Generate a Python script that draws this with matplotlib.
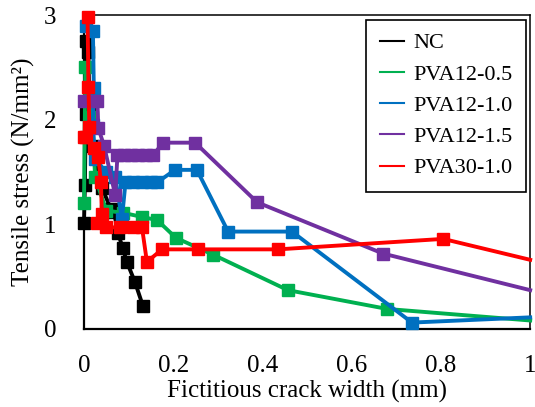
import matplotlib
matplotlib.use("Agg")
import matplotlib.pyplot as plt

plt.rcParams['font.family'] = ['Liberation Serif', 'DejaVu Serif']

# Fictitious crack width (mm) and tensile stress (N/mm2) for each mix
nc_w = [0.000, 0.002, 0.004, 0.005, 0.010, 0.012, 0.020, 0.040, 0.060, 0.067, 0.076, 0.087, 0.096, 0.114, 0.132]
nc_s = [1.01, 1.38, 2.05, 2.75, 2.65, 2.05, 1.75, 1.35, 1.15, 1.12, 0.92, 0.77, 0.64, 0.45, 0.22]

pva05_w = [0.000, 0.003, 0.018, 0.025, 0.050, 0.087, 0.130, 0.164, 0.206, 0.289, 0.457, 0.680, 1.000]
pva05_s = [1.20, 2.50, 2.03, 1.45, 1.13, 1.11, 1.07, 1.04, 0.87, 0.71, 0.37, 0.19, 0.08]

pva10_w = [0.004, 0.020, 0.022, 0.020, 0.025, 0.050, 0.070, 0.085, 0.093, 0.110, 0.130, 0.150, 0.164, 0.204, 0.253, 0.323, 0.466, 0.735, 1.000]
pva10_s = [2.90, 2.85, 2.30, 1.95, 1.62, 1.50, 1.45, 1.05, 1.40, 1.40, 1.40, 1.40, 1.40, 1.52, 1.52, 0.93, 0.93, 0.06, 0.11]

pva15_w = [0.000, 0.030, 0.032, 0.045, 0.070, 0.075, 0.090, 0.105, 0.120, 0.140, 0.155, 0.177, 0.249, 0.388, 0.670, 1.000]
pva15_s = [2.18, 2.18, 1.92, 1.75, 1.28, 1.66, 1.66, 1.66, 1.66, 1.66, 1.66, 1.78, 1.78, 1.21, 0.72, 0.37]

pva30_w = [0.008, 0.010, 0.012, 0.005, 0.000, 0.022, 0.032, 0.038, 0.040, 0.030, 0.050, 0.080, 0.110, 0.130, 0.141, 0.175, 0.256, 0.435, 0.805, 1.000]
pva30_s = [2.98, 2.31, 1.93, 1.83, 1.83, 1.73, 1.64, 1.40, 1.10, 1.01, 0.97, 0.97, 0.97, 0.97, 0.64, 0.76, 0.76, 0.76, 0.86, 0.66]

series = [
    ("NC", nc_w, nc_s, "#000000"),
    ("PVA12-0.5", pva05_w, pva05_s, "#00B050"),
    ("PVA12-1.0", pva10_w, pva10_s, "#0070C0"),
    ("PVA12-1.5", pva15_w, pva15_s, "#7030A0"),
    ("PVA30-1.0", pva30_w, pva30_s, "#FF0000"),
]

fig = plt.figure(figsize=(5.35, 4.07), dpi=100)
ax = fig.add_axes([0.157, 0.192, 0.834, 0.771])

for name, w, s, c in series:
    # curves running on past the right edge get no marker at the edge
    marks = [i for i in range(len(w)) if w[i] < 1.0]
    ax.plot(w, s, color=c, lw=2.8, marker='s', ms=9, mec=c, mfc=c,
            markevery=marks, clip_on=False, zorder=3)
    # legend entry drawn as a plain line
    ax.plot([], [], color=c, lw=1.5, label=name)

ax.set_xlim(0, 1)
ax.set_ylim(0, 3)
ax.set_xticks([0, 0.2, 0.4, 0.6, 0.8, 1])
ax.set_xticklabels(["0", "0.2", "0.4", "0.6", "0.8", "1"])
ax.set_yticks([0, 1, 2, 3])
ax.tick_params(axis='x', length=0, labelsize=18, pad=19)
ax.tick_params(axis='y', length=0, labelsize=18, pad=20)
ax.set_xlabel("Fictitious crack width (mm)", fontsize=18, labelpad=2)
ax.set_ylabel("Tensile stress (N/mm²)", fontsize=18, labelpad=6)

for side in ['left', 'bottom']:
    ax.spines[side].set_linewidth(1.6)
for side in ['top', 'right']:
    ax.spines[side].set_linewidth(1.1)

leg = ax.legend(loc='upper right', bbox_to_anchor=(1.0, 1.0), borderaxespad=0.2,
                fontsize=16, handlelength=1.1, handletextpad=0.4, labelspacing=0.48,
                fancybox=False, framealpha=1, edgecolor='black', borderpad=0.6)
leg.get_frame().set_linewidth(1.2)

fig.savefig("out.png", dpi=100)
